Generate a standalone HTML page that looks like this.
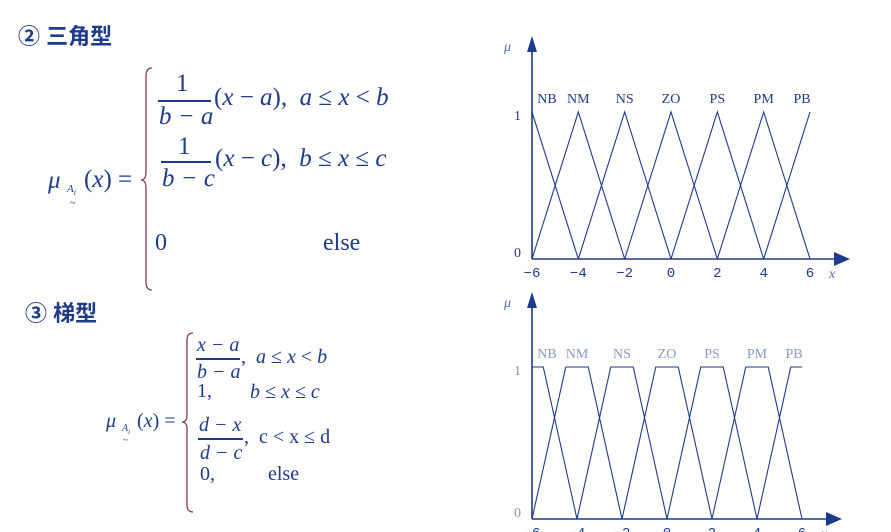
<!DOCTYPE html>
<html><head><meta charset="utf-8">
<style>
body{margin:0;background:#fff;width:891px;height:532px;overflow:hidden;position:relative;font-family:"Liberation Serif","Noto Serif CJK SC",serif;color:#1e3a8a}
.t{position:absolute;white-space:nowrap;line-height:1}
.i{font-style:italic}
.h{font-family:"Liberation Sans","Noto Sans CJK SC",sans-serif;font-weight:bold;font-size:22px;color:#1e3a8a}
.fl{position:absolute;height:1.5px;background:#1e3a8a}
svg{position:absolute;left:0;top:0}
</style></head><body>
<div class="t h" style="left:18px;top:26px">② 三角型</div>
<div class="t h" style="left:25px;top:303px">③ 梯型</div>

<div>
<div class="t i" style="left:48px;top:168px;font-size:25px">μ</div>
<div class="t i" style="left:67px;top:184px;font-size:11px">A<sub style="font-size:8px">i</sub></div>
<div class="t" style="left:70px;top:199px;font-size:10px">~</div>
<div class="t" style="left:84px;top:167px;font-size:25px">(<i>x</i>) =</div>
<div class="t" style="left:176px;top:71px;font-size:25px">1</div>
<div class="fl" style="left:158px;top:100px;width:53px"></div>
<div class="t i" style="left:159px;top:104px;font-size:25px">b − a</div>
<div class="t" style="left:214px;top:85px;font-size:25px">(<i>x</i> − <i>a</i>), &nbsp;<i>a</i> ≤ <i>x</i> &lt; <i>b</i></div>
<div class="t" style="left:178px;top:134px;font-size:25px">1</div>
<div class="fl" style="left:161px;top:161px;width:50px"></div>
<div class="t i" style="left:162px;top:166px;font-size:25px">b − c</div>
<div class="t" style="left:215px;top:146px;font-size:25px">(<i>x</i> − <i>c</i>), &nbsp;<i>b</i> ≤ <i>x</i> ≤ <i>c</i></div>
<div class="t" style="left:155px;top:231px;font-size:24px">0</div>
<div class="t" style="left:323px;top:231px;font-size:24px">else</div>
</div>

<div>
<div class="t i" style="left:106px;top:411px;font-size:20px">μ</div>
<div class="t i" style="left:122px;top:424px;font-size:10px">A<sub style="font-size:7px">i</sub></div>
<div class="t" style="left:123px;top:436px;font-size:9px">~</div>
<div class="t" style="left:137px;top:411px;font-size:20px">(<i>x</i>) =</div>
<div class="t i" style="left:197px;top:335px;font-size:20px">x − a</div>
<div class="fl" style="left:196px;top:358px;width:44px"></div>
<div class="t i" style="left:197px;top:362px;font-size:20px">b − a</div>
<div class="t" style="left:241px;top:347px;font-size:20px">, &nbsp;<i>a</i> ≤ <i>x</i> &lt; <i>b</i></div>
<div class="t" style="left:197px;top:381px;font-size:20px">1,</div>
<div class="t i" style="left:250px;top:382px;font-size:20px">b ≤ x ≤ c</div>
<div class="t i" style="left:199px;top:415px;font-size:20px">d − x</div>
<div class="fl" style="left:198px;top:438px;width:45px"></div>
<div class="t i" style="left:200px;top:443px;font-size:20px">d − c</div>
<div class="t" style="left:244px;top:427px;font-size:20px">, &nbsp;c &lt; x ≤ d</div>
<div class="t" style="left:200px;top:464px;font-size:20px">0,</div>
<div class="t" style="left:268px;top:464px;font-size:20px">else</div>
</div>

<svg width="891" height="532" id="s">
<path d="M152 68 Q146 68 146 76 L146 172 Q146 180 141 180 Q146 180 146 188 L146 282 Q146 290 152 290" fill="none" stroke="#8a3a5a" stroke-width="1.3"/>
<path d="M193 333 Q187 333 187 340 L187 415 Q187 422 182 422 Q187 422 187 429 L187 505 Q187 512 193 512" fill="none" stroke="#8a3a5a" stroke-width="1.3"/>
</svg>
<script>
const labels=["NB","NM","NS","ZO","PS","PM","PB"];
const centers=[-6,-4,-2,0,2,4,6];
const xTicks=[-6,-4,-2,0,2,4,6];
const yTicks=[0,1];
const triHalf=2;
const trapBase=2, trapTop=0.5;
const NS="http://www.w3.org/2000/svg";
const svg=document.getElementById('s');
const C="#1e3a8a";
function mk(t,a,p){const e=document.createElementNS(NS,t);for(const k in a)e.setAttribute(k,a[k]);(p||svg).appendChild(e);return e;}
function chart(o){
  const g=mk('g',{});
  
  
  const X=v=>o.x0+(v+6)*(o.x1-o.x0)/12, Y=v=>o.y0-v*(o.y0-o.y1);
  const xa=mk('line',{x1:o.x0,y1:o.y0,x2:o.ax,y2:o.y0,stroke:C,'stroke-width':1.6},g);
  
  mk('polygon',{points:`${o.ax-2},${o.y0-7} ${o.ax+14},${o.y0} ${o.ax-2},${o.y0+7}`,fill:C},g);
  const ya=mk('line',{x1:o.x0,y1:o.y0,x2:o.x0,y2:o.ay,stroke:C,'stroke-width':1.6},g);
  
  mk('polygon',{points:`${o.x0-5},${o.ay} ${o.x0},${o.ay-16} ${o.x0+5},${o.ay}`,fill:C},g);
  const mu=mk('text',{x:o.x0-28,y:o.ay-1,fill:'#4a6fc0','font-style':'italic','font-size':14,'font-family':'Liberation Serif'},g);mu.textContent='μ';
  
  const xt=mk('text',{x:o.ax-7,y:o.y0+19,fill:'#4a6fc0','font-style':'italic','font-size':14,'font-family':'Liberation Serif'},g);xt.textContent='x';
  
  xTicks.forEach(v=>{const t=mk('text',{x:X(v),y:o.y0+18,'text-anchor':'middle',fill:C,'font-size':14,'font-family':'Liberation Mono'},g);t.textContent=(v<0?'−':'')+Math.abs(v);
  });
  yTicks.forEach(v=>{const t=mk('text',{x:o.x0-18,y:Y(v)+(v?8:-2),fill:o.lc,'font-size':14,'font-family':'Liberation Serif'},g);t.textContent=v;
  });
  centers.forEach((c,i)=>{
    let pts;
    if(o.trap){pts=[[c-trapBase,0],[c-trapTop,1],[c+trapTop,1],[c+trapBase,0]];}
    else pts=[[c-triHalf,0],[c,1],[c+triHalf,0]];
    const out=[];
    for(let k=0;k<pts.length;k++){const [a,b]=pts[k];
      if(a<-6){const [a2,b2]=pts[k+1];if(a2<=-6)continue;const tt=(-6-a)/(a2-a);out.push([-6,b+(b2-b)*tt]);}
      else if(a>6){const [a0,b0]=pts[k-1];if(a0>=6)continue;const tt=(6-a0)/(a-a0);out.push([6,b0+(b-b0)*tt]);}
      else out.push([a,b]);}
    const p=mk('polyline',{points:out.map(q=>X(q[0])+','+Y(q[1])).join(' '),fill:'none',stroke:C,'stroke-width':1.1},g);
    
    
    const t=mk('text',{x:X(c)+(i==0?15:i==6?-8:0),y:o.y1-9,'text-anchor':'middle',fill:o.lc,'font-size':14,'font-family':'Liberation Serif'},g);
    t.textContent=labels[i];
    
    
  });
}
chart({name:'triangle-chart',x0:532,x1:810,y0:259,y1:112,ax:836,ay:52,trap:false,lc:C});
chart({name:'trapezoid-chart',x0:532,x1:802,y0:519,y1:367,ax:828,ay:308,trap:true,lc:'#8a9ac4'});
</script>
</body></html>
